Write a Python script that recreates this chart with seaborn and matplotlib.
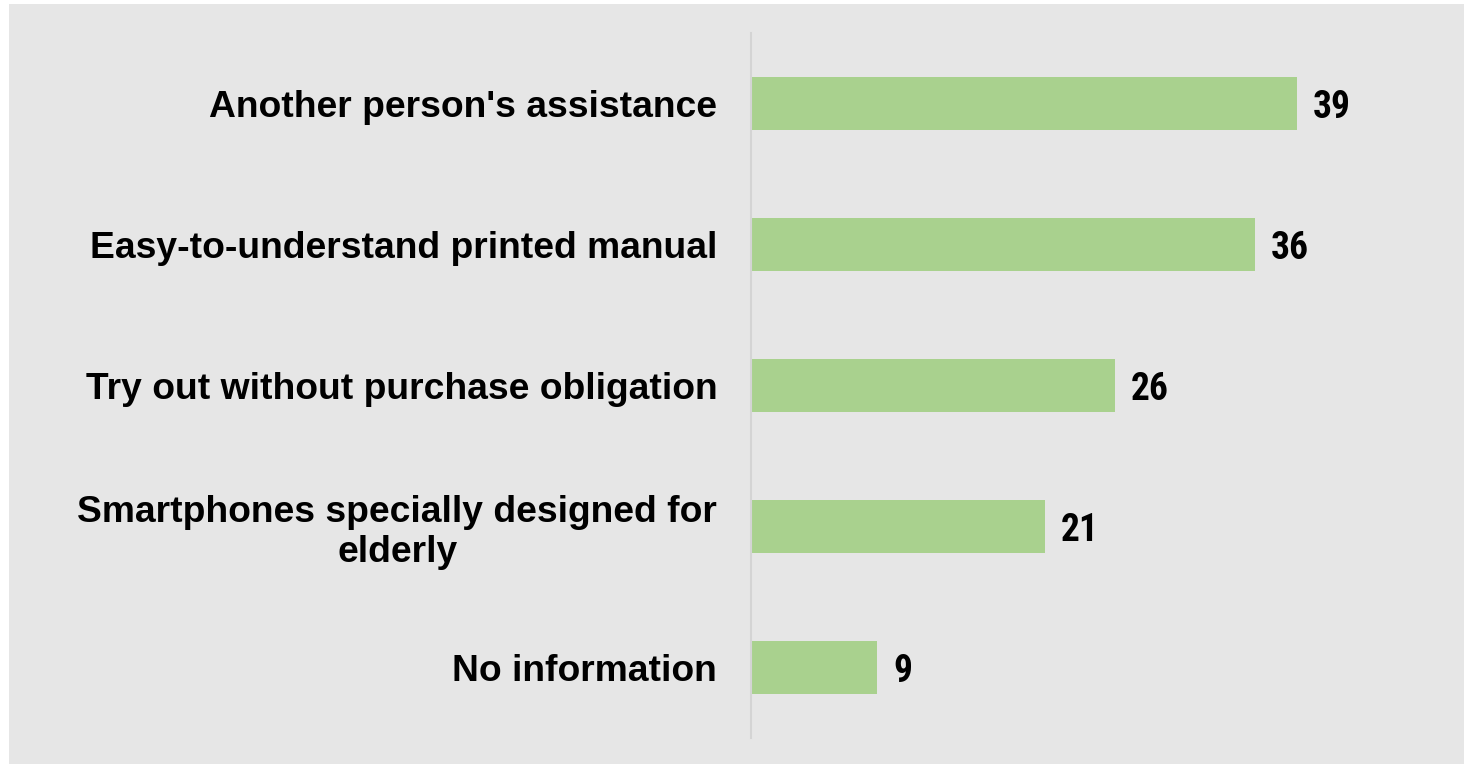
import matplotlib
matplotlib.use("Agg")
import matplotlib.pyplot as plt
import matplotlib.patches as mpatches
import seaborn as sns
import pandas as pd

categories = [
    "Another person's assistance",
    "Easy-to-understand printed manual",
    "Try out without purchase obligation",
    "Smartphones specially designed for\nelderly",
    "No information",
]
values = [39, 36, 26, 21, 9]

BG = "#e6e6e6"
BAR = "#a9d18e"

sns.set_theme(style="white")
plt.rcParams["font.family"] = ["Liberation Sans", "DejaVu Sans"]

df = pd.DataFrame({"category": categories, "value": values})

fig = plt.figure(figsize=(14.64, 7.64), dpi=100, facecolor="white")
fig.patches.append(mpatches.Rectangle((9 / 1464, 0), 1 - 9 / 1464, 760 / 764,
                                      transform=fig.transFigure, facecolor=BG,
                                      edgecolor="none", zorder=-10))
ax = fig.add_axes([750.5 / 1464, 26 / 764, 700 / 1464, 705 / 764])
ax.set_facecolor("none")

sns.barplot(data=df, x="value", y="category", orient="h", color=BAR,
            saturation=1, width=0.37, linewidth=0, ax=ax)

ax.set_xlim(0, 50)
ax.set_ylim(4.5, -0.5)
ax.set_xlabel("")
ax.set_ylabel("")
ax.set_xticks([])
for s in ["top", "right", "bottom"]:
    ax.spines[s].set_visible(False)
ax.spines["left"].set_color("#d4d4d4")
ax.spines["left"].set_linewidth(1.5)
ax.tick_params(axis="y", length=0, pad=24)
for lbl in ax.get_yticklabels():
    lbl.set_fontsize(26.8)
    lbl.set_fontweight("bold")
    lbl.set_color("black")
    lbl.set_horizontalalignment("right")
    lbl.set_multialignment("center")
    lbl.set_linespacing(1.15)

for i, v in enumerate(values):
    ax.annotate(f"{v}", xy=(v, i), xytext=(12, -3), textcoords="offset points",
                ha="left", va="center", fontsize=27, fontweight="bold",
                family=["Roboto Condensed", "Liberation Sans Narrow", "Roboto"],
                color="black")

fig.savefig("out.png", dpi=100, facecolor="white")
